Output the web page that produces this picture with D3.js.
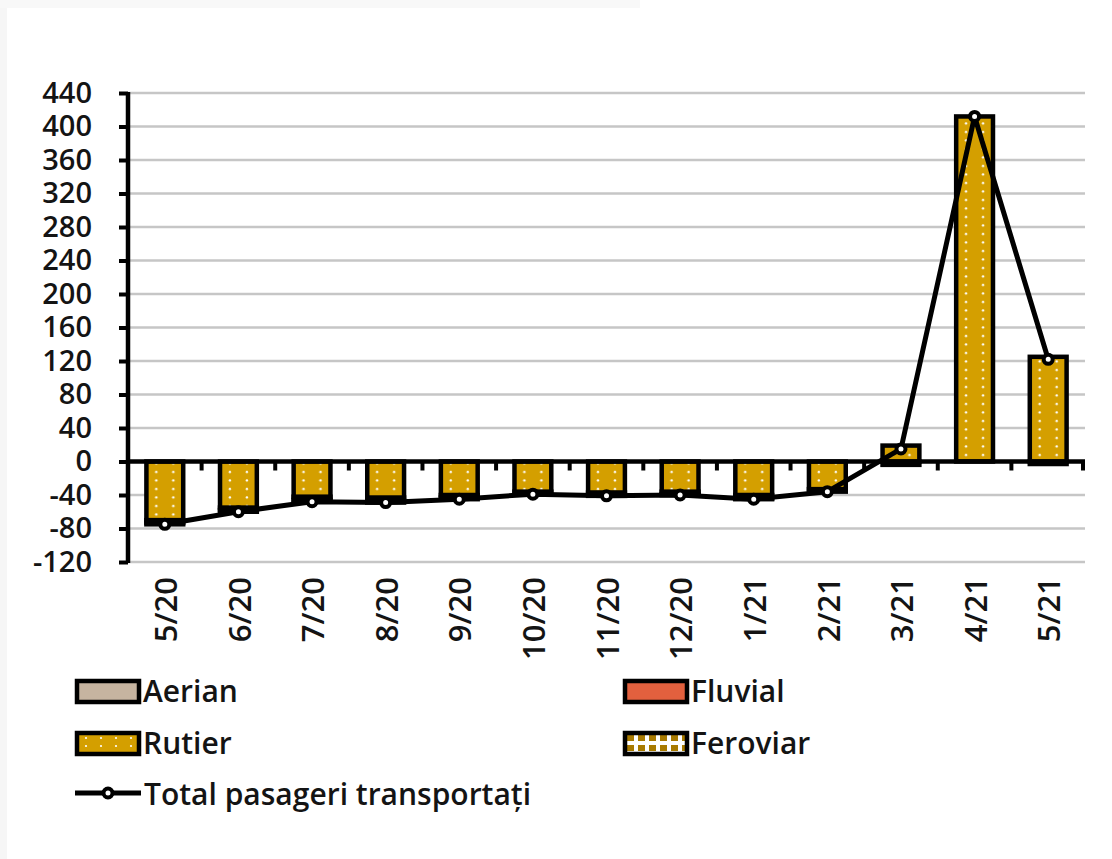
<!DOCTYPE html>
<html>
<head>
<meta charset="utf-8">
<script src="https://cdn.jsdelivr.net/npm/d3@7"></script>
<style>
  body { margin: 0; background: #fff; }
  text { font-family: "Open Sans", sans-serif; font-weight: 600; fill: #141414; }
</style>
</head>
<body>
<div id="container"></div>
<script>
// date
var categories = ['5/20', '6/20', '7/20', '8/20', '9/20', '10/20', '11/20', '12/20', '1/21', '2/21', '3/21', '4/21', '5/21'];
var aerian   = [-3, -3, -4, -4, -3, -3, -3, -3, -4, -3, -4, 0, -3];
var fluvial  = [0, 0, 0, 0, 0, 0, 0, 0, 0, 0, 0, 0, 0];
var rutier   = [-70, -55, -42, -43, -40, -36, -37, -36, -40, -33, 19, 412, 125];
var feroviar = [-2, -2, -2, -2, -2, 0, -1, -1, -1, 0, 0, 0, 0];
var totalPasageri = [-75, -60, -48, -49, -45, -39, -41, -40, -45, -36, 15, 412, 122];
var yTicks = [-120, -80, -40, 0, 40, 80, 120, 160, 200, 240, 280, 320, 360, 400, 440];

var totalWidth = 1112,
    totalHeight = 859,
    margin = {top: 93, left: 128},
    width = 957,
    height = 469;

var colors = {aerian: '#c6b4a0', fluvial: '#e2603e', rutier: '#d49f00', feroviar: '#a87a00'};

var xScale = d3.scaleBand()
               .domain(categories)
               .range([0, width])
               .paddingInner(0.5)
               .paddingOuter(0.25);
var yScale = d3.scaleLinear()
               .domain([-120, 440])
               .range([height, 0]);
var step = xScale.step(),
    bw = xScale.bandwidth();

var svg = d3.select('#container')
            .append('svg')
            .attr('width', totalWidth)
            .attr('height', totalHeight);

// rama gri foarte deschisa
svg.append('rect').attr('x', 0).attr('y', 0).attr('width', 7).attr('height', totalHeight).attr('fill', '#f6f6f6');
svg.append('rect').attr('x', 0).attr('y', 0).attr('width', 640).attr('height', 8).attr('fill', '#f8f8f8');

// texturi
var defs = svg.append('defs');
var pRut = defs.append('pattern').attr('id', 'dotsRutier')
               .attr('patternUnits', 'userSpaceOnUse')
               .attr('width', 17).attr('height', 8.5);
pRut.append('rect').attr('width', 17).attr('height', 8.5).attr('fill', colors.rutier);
pRut.append('circle').attr('cx', (bw / 2 - 8.5) % 17).attr('cy', 5).attr('r', 1.2).attr('fill', '#fff');

var pLeg = defs.append('pattern').attr('id', 'dotsRutierLeg')
               .attr('patternUnits', 'userSpaceOnUse')
               .attr('width', 15).attr('height', 8);
pLeg.append('rect').attr('width', 15).attr('height', 8).attr('fill', colors.rutier);
pLeg.append('circle').attr('cx', 9).attr('cy', 5).attr('r', 1.1).attr('fill', '#fff');

var pFer = defs.append('pattern').attr('id', 'checkFer')
               .attr('patternUnits', 'userSpaceOnUse')
               .attr('width', 11).attr('height', 10);
pFer.append('rect').attr('width', 11).attr('height', 10).attr('fill', '#fff');
pFer.append('rect').attr('x', 2).attr('y', 2).attr('width', 7).attr('height', 6).attr('fill', colors.feroviar);

var fills = {aerian: colors.aerian, fluvial: colors.fluvial, rutier: 'url(#dotsRutier)', feroviar: 'url(#checkFer)'};

var g = svg.append('g')
           .attr('transform', 'translate(' + margin.left + ',' + margin.top + ')');

// grila
g.append('g').attr('class', 'grid')
 .selectAll('line')
 .data(yTicks).enter()
 .append('line')
 .attr('x1', 0).attr('x2', width)
 .attr('y1', function(d) { return yScale(d); })
 .attr('y2', function(d) { return yScale(d); })
 .attr('stroke', '#c6c6c6')
 .attr('stroke-width', 2.5);

// zona alba dintre axa 0 si linia totalului (partea negativa)
defs.append('clipPath').attr('id', 'negClip')
    .append('rect')
    .attr('x', 0).attr('y', yScale(0))
    .attr('width', width).attr('height', height - yScale(0));
var center = function(i) { return xScale(categories[i]) + bw / 2; };
var area = d3.area()
             .x(function(d, i) { return center(i); })
             .y0(yScale(0))
             .y1(function(d) { return yScale(d); });
g.append('path')
 .datum(totalPasageri)
 .attr('clip-path', 'url(#negClip)')
 .attr('d', area)
 .attr('fill', '#fff');

// bare stivuite
var rows = categories.map(function(c, i) {
  return {cat: c, rutier: rutier[i], aerian: aerian[i], fluvial: fluvial[i], feroviar: feroviar[i]};
});
var stack = d3.stack()
              .keys(['rutier', 'aerian', 'fluvial', 'feroviar'])
              .offset(d3.stackOffsetDiverging);
var series = stack(rows);

series.slice().reverse().forEach(function(s) {
  g.append('g').attr('class', 'bars-' + s.key)
   .selectAll('g')
   .data(s.filter(function(d) { return d[1] - d[0] !== 0; }))
   .enter()
   .append('g')
   .attr('transform', function(d) { return 'translate(' + xScale(d.data.cat) + ',0)'; })
   .append('rect')
   .attr('x', 0)
   .attr('width', bw)
   .attr('y', function(d) { return yScale(Math.max(d[0], d[1])); })
   .attr('height', function(d) { return Math.abs(yScale(d[0]) - yScale(d[1])); })
   .attr('fill', fills[s.key])
   .attr('stroke', '#000')
   .attr('stroke-width', 4.5);
});

// axa X la zero, cu gradatii intre categorii
var y0 = yScale(0);
g.append('line')
 .attr('x1', 0).attr('x2', width)
 .attr('y1', y0).attr('y2', y0)
 .attr('stroke', '#000').attr('stroke-width', 4.5);
g.append('g')
 .selectAll('line')
 .data(d3.range(1, categories.length + 1))
 .enter()
 .append('line')
 .attr('x1', function(k) { return Math.min(k * step, width - 2); })
 .attr('x2', function(k) { return Math.min(k * step, width - 2); })
 .attr('y1', y0).attr('y2', y0 + 9)
 .attr('stroke', '#000').attr('stroke-width', 4);

// etichete X
g.append('g')
 .selectAll('text')
 .data(categories).enter()
 .append('text')
 .attr('transform', function(d) {
   return 'translate(' + (xScale(d) + bw / 2 + 1) + ',' + (height + 15) + ') rotate(-90)';
 })
 .attr('text-anchor', 'end')
 .attr('dy', '0.36em')
 .attr('font-size', 31)
 .text(function(d) { return d; });

// axa Y
var yAxis = d3.axisLeft(yScale)
              .tickValues(yTicks)
              .tickSize(9)
              .tickPadding(27)
              .tickFormat(function(d) { return String(d); });
var ya = g.append('g').attr('class', 'y-axis').call(yAxis);
ya.select('.domain').remove();
ya.append('line')
  .attr('x1', 0).attr('x2', 0)
  .attr('y1', -1).attr('y2', height + 1)
  .attr('stroke', '#000').attr('stroke-width', 4.5);
ya.selectAll('.tick line').attr('stroke', '#000').attr('stroke-width', 4);
ya.selectAll('.tick text')
  .attr('font-size', 29)
  .attr('font-family', '"Open Sans", sans-serif')
  .attr('font-weight', 600)
  .attr('fill', '#141414');

// linia totalului
var line = d3.line()
             .x(function(d, i) { return center(i); })
             .y(function(d) { return yScale(d); });
g.append('path')
 .datum(totalPasageri)
 .attr('d', line)
 .attr('fill', 'none')
 .attr('stroke', '#000')
 .attr('stroke-width', 5)
 .attr('stroke-linejoin', 'round');
g.append('g')
 .selectAll('circle')
 .data(totalPasageri).enter()
 .append('circle')
 .attr('cx', function(d, i) { return center(i); })
 .attr('cy', function(d) { return yScale(d); })
 .attr('r', 4.5)
 .attr('fill', '#fff')
 .attr('stroke', '#000')
 .attr('stroke-width', 4);

// legenda
var legendItems = [
  {name: 'Aerian', fill: colors.aerian, x: 77, y: 681},
  {name: 'Fluvial', fill: colors.fluvial, x: 625, y: 681},
  {name: 'Rutier', fill: 'url(#dotsRutierLeg)', x: 77, y: 733},
  {name: 'Feroviar', fill: 'url(#checkFer)', x: 625, y: 733}
];
var legend = svg.append('g').attr('class', 'legend');
var item = legend.selectAll('.item')
                 .data(legendItems).enter()
                 .append('g').attr('class', 'item')
                 .attr('transform', function(d) { return 'translate(' + d.x + ',' + d.y + ')'; });
item.append('rect')
    .attr('width', 62).attr('height', 21)
    .attr('fill', function(d) { return d.fill; })
    .attr('stroke', '#000').attr('stroke-width', 4.5);
item.append('text')
    .attr('x', 66).attr('y', 21)
    .attr('font-size', 30)
    .text(function(d) { return d.name; });

var lineItem = legend.append('g').attr('transform', 'translate(75,793)');
lineItem.append('line')
        .attr('x1', 0).attr('x2', 66)
        .attr('stroke', '#000').attr('stroke-width', 5);
lineItem.append('circle')
        .attr('cx', 33).attr('r', 4.5)
        .attr('fill', '#fff').attr('stroke', '#000').attr('stroke-width', 4);
lineItem.append('text')
        .attr('x', 69).attr('y', 12)
        .attr('font-size', 30)
        .text('Total pasageri transportați');
</script>
</body>
</html>
